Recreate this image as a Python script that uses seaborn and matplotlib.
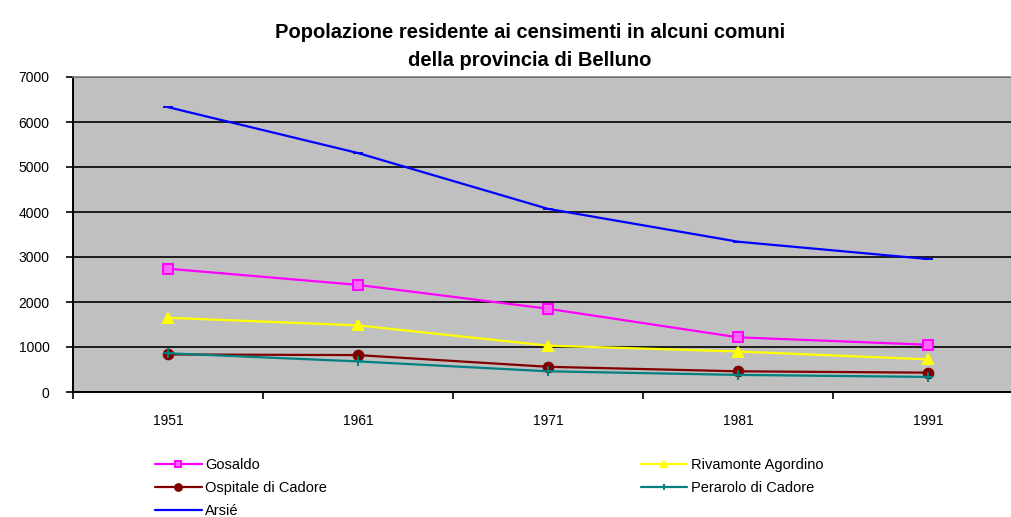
import matplotlib

matplotlib.use("Agg")
import matplotlib.pyplot as plt
import pandas as pd
import seaborn as sns

anni = ["1951", "1961", "1971", "1981", "1991"]
gosaldo = [2740, 2380, 1850, 1215, 1050]
rivamonte = [1650, 1480, 1030, 900, 725]
ospitale = [835, 820, 560, 460, 430]
perarolo = [860, 680, 460, 380, 335]
arsie = [6330, 5310, 4070, 3340, 2955]

serie = {
    "Gosaldo": gosaldo,
    "Rivamonte Agordino": rivamonte,
    "Ospitale di Cadore": ospitale,
    "Perarolo di Cadore": perarolo,
    "Arsié": arsie,
}
colori = {
    "Gosaldo": "#FF00FF",
    "Rivamonte Agordino": "#FFFF00",
    "Ospitale di Cadore": "#800000",
    "Perarolo di Cadore": "#008080",
    "Arsié": "#0000FF",
}
marcatori = {
    "Gosaldo": "s",
    "Rivamonte Agordino": "^",
    "Ospitale di Cadore": "o",
    "Perarolo di Cadore": "+",
    "Arsié": "_",
}
riempimento = {"Gosaldo": "#FF66FF"}

sns.set_theme(style="white")
plt.rcParams["font.family"] = ["Liberation Sans", "DejaVu Sans"]
plt.rcParams["text.color"] = "black"
plt.rcParams["xtick.color"] = "black"
plt.rcParams["ytick.color"] = "black"

fig = plt.figure(figsize=(10.11, 5.17), dpi=100)
ax = fig.add_axes([73 / 1011, 1 - 392 / 517, 1 - 73 / 1011, (392 - 77) / 517])
ax.set_facecolor("#C0C0C0")

for nome, valori in serie.items():
    d = pd.DataFrame({"idx": range(len(anni)), "pop": valori})
    col = colori[nome]
    sns.lineplot(data=d, x="idx", y="pop", color=col, marker=marcatori[nome],
                 markersize=7, markeredgewidth=1.4, markeredgecolor=col,
                 markerfacecolor=riempimento.get(nome, col),
                 linewidth=1.6, label=nome, ax=ax)

ax.set_yticks(range(0, 7001, 1000))
ax.yaxis.grid(True, color="black", linewidth=1.2)
ax.set_axisbelow(True)
ax.set_xticks(range(5))
ax.set_xticklabels(anni)
ax.set_xticks([i - 0.5 for i in range(6)], minor=True)
ax.set_xlim(-0.5, -0.5 + (1011 - 73) / 190)
ax.set_ylim(0, 7000)
ax.tick_params(axis="x", which="major", length=0, pad=16, labelsize=10)
ax.tick_params(axis="x", which="minor", length=5, width=1.2,
               direction="out", bottom=True)
ax.tick_params(axis="y", length=5, width=1.2, direction="out",
               left=True, labelsize=10, pad=12)
ax.set_xlabel("")
ax.set_ylabel("")
for s in ["left", "bottom"]:
    ax.spines[s].set_color("black")
    ax.spines[s].set_linewidth(1.4)
ax.spines["top"].set_color("#808080")
ax.spines["top"].set_linewidth(1.2)
ax.spines["right"].set_visible(False)

fig.text(0.524, 1 - 33 / 517, "Popolazione residente ai censimenti in alcuni comuni",
         ha="center", va="center", fontsize=14.5, fontweight="bold")
fig.text(0.524, 1 - 60 / 517, "della provincia di Belluno",
         ha="center", va="center", fontsize=14.5, fontweight="bold")

handles, labels = ax.get_legend_handles_labels()
lookup = dict(zip(labels, handles))
ordine = ["Gosaldo", "Ospitale di Cadore", "Arsié",
          "Rivamonte Agordino", "Perarolo di Cadore"]
ax.legend([lookup[n] for n in ordine], ordine, ncol=2, frameon=False,
          loc="upper left", bbox_to_anchor=(155 / 1011, 1 - 458 / 517),
          bbox_transform=fig.transFigure, fontsize=10.5, handlelength=3.2,
          handletextpad=0.25, columnspacing=21.5, labelspacing=0.62,
          borderaxespad=0, borderpad=0, markerscale=0.7)

fig.savefig("out.png", dpi=100)
